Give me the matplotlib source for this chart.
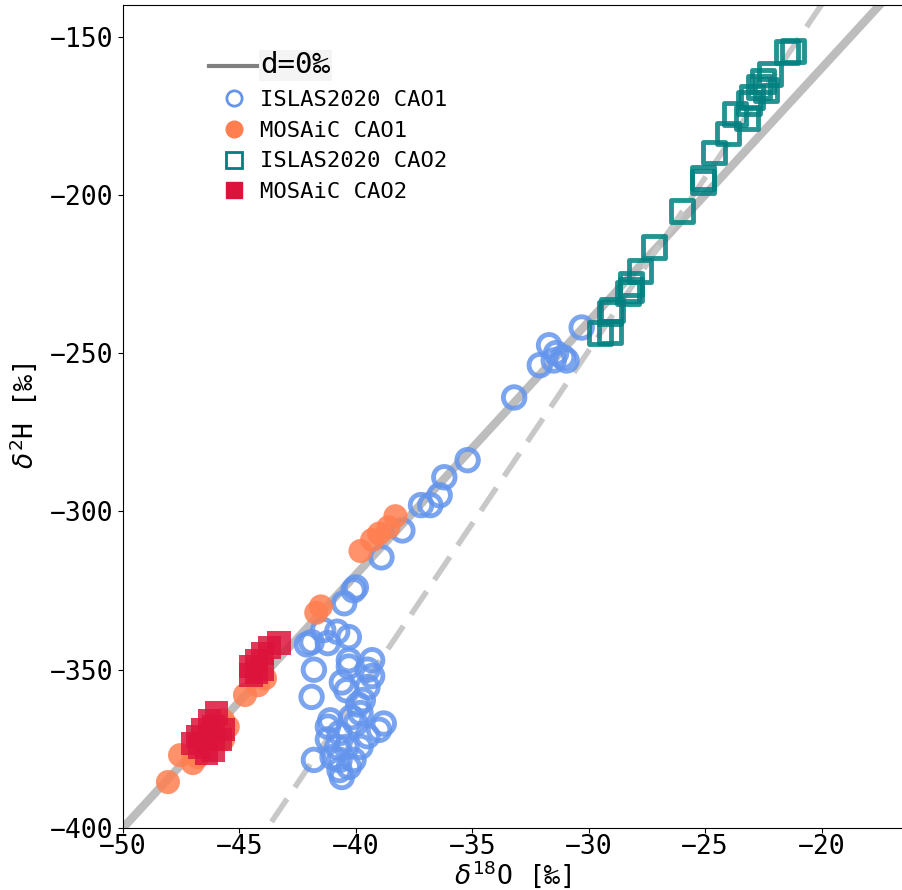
import matplotlib

matplotlib.use("Agg")

import matplotlib.pyplot as plt
from matplotlib.lines import Line2D
import numpy as np

# =========================
# データ
# =========================
islas_cao1_x = [-30.3, -31.7, -31.4, -31.1, -32.1, -30.95, -31.5, -33.2, -35.2, -36.2,
                -36.4, -36.8, -37.2, -38.0, -38.9, -40.0, -40.1, -40.5, -40.3, -41.4,
                -41.9, -42.1, -41.2, -40.8, -40.3, -40.3, -41.8, -40.6, -40.4, -41.9,
                -39.3, -39.5, -39.7, -39.8, -38.8, -39.0, -41.1, -41.2, -40.0, -40.7,
                -39.5, -41.2, -40.8, -40.4, -39.8, -41.8, -40.7, -40.1, -40.7, -40.6,
                -40.3, -41.0, -39.5, -39.3, -39.9, -40.2]
islas_cao1_y = [-241.9, -247.5, -250.0, -251.3, -253.8, -252.3, -252.3, -264.0, -283.8, -289.2,
                -294.9, -298.0, -298.0, -306.0, -314.5, -324.0, -324.9, -329.0, -339.7, -337.5,
                -341.3, -342.0, -341.6, -338.0, -347.0, -349.0, -350.0, -354.0, -356.5, -358.6,
                -352.0, -355.5, -359.6, -363.7, -367.0, -369.0, -366.0, -368.0, -367.0, -370.0,
                -371.0, -372.0, -374.4, -374.4, -374.4, -378.5, -378.5, -378.5, -381.7, -383.9,
                -380.7, -377.6, -350.0, -347.0, -361.0, -365.0]

mosaic_cao1_x = [-38.3, -38.6, -39.0, -39.3, -39.8, -41.5, -41.7,
                 -48.07, -47.55, -47.0, -44.76, -44.2, -43.9, -45.7, -45.5, -45.7, -46.8]
mosaic_cao1_y = [-301.5, -305.0, -307.0, -309.0, -312.5, -330.0, -332.0,
                 -385.5, -377.0, -379.5, -358.0, -354.9, -352.7, -366.0, -368.0, -372.0, -377.6]

islas_cao2_x = [-21.24, -21.5, -22.2, -22.5, -22.7, -22.4, -23.0, -23.1, -23.7, -23.2,
                -24.0, -24.6, -25.1, -25.1, -26.0, -27.2, -27.8, -28.2, -28.3, -28.2,
                -29.0, -29.1, -29.5, -29.1]
islas_cao2_y = [-154.4, -155.0, -161.7, -163.9, -166.0, -167.0, -169.0, -171.0, -174.3, -175.6,
                -180.6, -186.6, -194.8, -196.0, -205.0, -216.6, -223.9, -228.0, -231.0, -230.0,
                -236.5, -237.4, -243.7, -243.4]

mosaic_cao2_x = [-43.3, -43.7, -44.0, -44.25, -44.5, -44.5, -44.25, -44.0,
                 -46.0, -46.3, -46.1, -46.6, -46.8, -47.0, -46.7, -46.4, -46.1, -45.8, -45.7]
mosaic_cao2_y = [-341.6, -343.0, -344.8, -347.0, -349.0, -351.7, -351.0, -350.0,
                 -363.7, -366.0, -368.0, -369.0, -371.0, -373.2, -374.4, -376.3, -375.4, -372.0, -369.0]

# d=0‰ の線 (δ2H = 8 δ18O) と破線の傾き・切片
d0_slope = 8.0
d0_intercept = 0.0
dash_slope = 10.93
dash_intercept = 78.7

XLIM = (-50, -16.5)
YLIM = (-400, -140)

# =========================
# 描画
# =========================
plt.rcParams["font.family"] = ["DejaVu Sans Mono", "DejaVu Sans"]

fig = plt.figure(figsize=(9.03, 8.9), dpi=100)
ax = fig.add_axes([0.1362, 0.0697, 0.8638, 0.9247])

xx = np.array(XLIM)
ax.plot(xx, d0_slope * xx + d0_intercept, color="#bdbdbd", lw=6, zorder=1)
ax.plot(xx, dash_slope * xx + dash_intercept, color="#c8c8c8", lw=4,
        dashes=(5, 2.5), zorder=1)

ax.scatter(islas_cao1_x, islas_cao1_y, s=240, facecolors="none",
           edgecolors="#6495ED", linewidths=3.5, alpha=0.85, zorder=2)
ax.scatter(mosaic_cao1_x, mosaic_cao1_y, s=300, color="#FF7F50",
           edgecolors="none", alpha=0.85, zorder=2)
ax.scatter(islas_cao2_x, islas_cao2_y, s=250, marker="s", facecolors="none",
           edgecolors="#008080", linewidths=3.5, alpha=0.85, zorder=2)
ax.scatter(mosaic_cao2_x, mosaic_cao2_y, s=280, marker="s", color="#DC143C",
           edgecolors="none", alpha=0.85, zorder=2)

ax.set_xlim(XLIM)
ax.set_ylim(YLIM)
ax.set_xticks([-50, -45, -40, -35, -30, -25, -20])
ax.set_yticks([-400, -350, -300, -250, -200, -150])
ax.tick_params(labelsize=19)
ax.tick_params(axis="x", pad=1)
ax.set_xlabel(r"$\delta^{18}$O [‰]", fontsize=19, labelpad=-1)
ax.set_ylabel(r"$\delta^{2}$H [‰]", fontsize=19, labelpad=8)

# 凡例
handles = [
    Line2D([], [], color="gray", lw=3),
    Line2D([], [], marker="o", ls="none", ms=11, mfc="none", mec="#6495ED", mew=2),
    Line2D([], [], marker="o", ls="none", ms=12, color="#FF7F50"),
    Line2D([], [], marker="s", ls="none", ms=11, mfc="none", mec="#008080", mew=2),
    Line2D([], [], marker="s", ls="none", ms=12, color="#DC143C"),
]
labels = ["d=0‰", "ISLAS2020 CAO1", "MOSAiC CAO1", "ISLAS2020 CAO2", "MOSAiC CAO2"]
leg = ax.legend(handles, labels, loc="upper left", bbox_to_anchor=(0.085, 0.968),
                frameon=False, fontsize=16, handlelength=2.2, handletextpad=0.1,
                labelspacing=0.48)
first = leg.get_texts()[0]
first.set_fontsize(21)
first.set_bbox(dict(facecolor="#f4f4f4", edgecolor="none", pad=1))

fig.savefig("out.png", dpi=100)
